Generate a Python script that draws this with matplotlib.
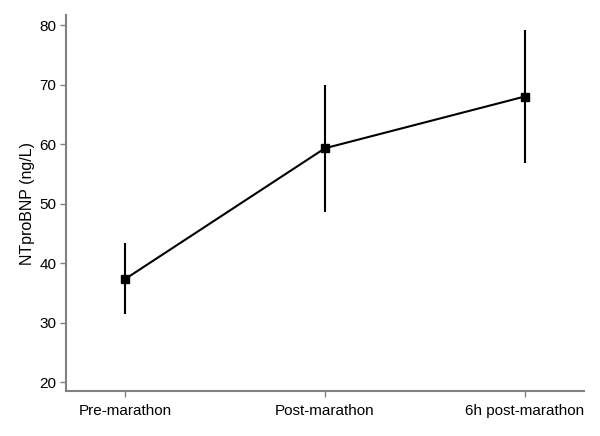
import matplotlib
matplotlib.use("Agg")
import matplotlib.pyplot as plt

categories = ["Pre-marathon", "Post-marathon", "6h post-marathon"]
means = [37.3, 59.3, 68.0]
upper = [43.3, 69.9, 79.2]
lower = [31.4, 48.6, 56.9]
yticks = [20, 30, 40, 50, 60, 70, 80]

plt.rcParams['font.family'] = ['Liberation Sans', 'DejaVu Sans']

fig = plt.figure(figsize=(6, 4.36), dpi=100)
ax = fig.add_axes([0.11, 0.1032, 0.863, 0.8624])

x = list(range(len(categories)))
yerr = [[m - l for m, l in zip(means, lower)], [u - m for m, u in zip(means, upper)]]
ax.errorbar(x, means, yerr=yerr, color='black', lw=1.5, elinewidth=1.5,
            marker='s', ms=6, capsize=0)

ax.set_xlim(-0.295, 2.295)
ax.set_ylim(18.5, 81.7)
ax.set_xticks(x)
ax.set_xticklabels(categories, fontsize=11)
ax.set_yticks(yticks)
ax.set_yticklabels([str(t) for t in yticks], fontsize=11)
ax.set_ylabel("NTproBNP (ng/L)", fontsize=11.5, labelpad=3)

for s in ['top', 'right']:
    ax.spines[s].set_visible(False)
for s in ['left', 'bottom']:
    ax.spines[s].set_color('#808080')
    ax.spines[s].set_linewidth(1.5)
ax.tick_params(axis='both', colors='#808080', labelcolor='black', length=4, width=1, pad=3)
ax.tick_params(axis='x', pad=5)

fig.savefig("out.png", dpi=100)
